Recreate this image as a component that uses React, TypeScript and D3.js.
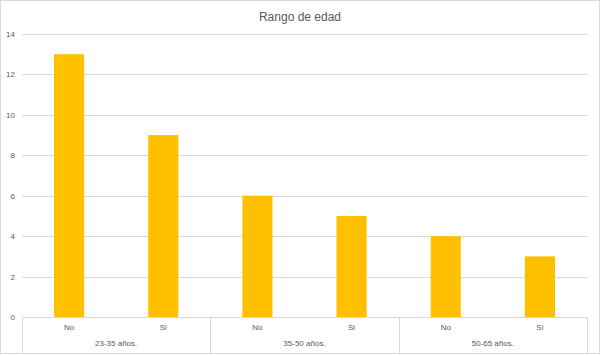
import React from "react";
import * as d3 from "d3";

const groups = ["23-35 años.", "35-50 años.", "50-65 años."];
const subs = ["No", "Si"];
const values = [13, 9, 6, 5, 4, 3];
const yTicks = [0, 2, 4, 6, 8, 10, 12, 14];
const title = "Rango de edad";

const W = 600, H = 356;
const left = 22, right = 587, top = 34, bottom = 317;

export default function App() {
  const items = groups.flatMap((g, gi) => subs.map((s, si) => ({ key: `${gi}-${si}`, g, s, v: values[gi * 2 + si] })));
  const x = d3.scaleBand<string>().domain(items.map(d => d.key)).range([left, right]).paddingInner(0.68).paddingOuter(0.34);
  const y = d3.scaleLinear().domain([0, 14]).range([bottom, top]);
  const gx = d3.scaleBand<string>().domain(groups).range([left, right]);
  const font = "'Liberation Sans', Arial, sans-serif";
  return (
    <svg width={W} height={H} style={{ position: "absolute", left: 0, top: 0, background: "#fff" }}>
      <rect x={0.5} y={0.5} width={W - 1} height={H - 3} fill="#fff" stroke="#d9d9d9" />
      <text x={W / 2} y={21} textAnchor="middle" fontFamily={font} fontSize={12} fill="#595959">{title}</text>
      {yTicks.map(t => (
        <g key={t}>
          <line x1={left} x2={right} y1={Math.round(y(t)) + 0.5} y2={Math.round(y(t)) + 0.5} stroke="#d9d9d9" />
          <text x={15} y={y(t) + 3} textAnchor="end" fontFamily={font} fontSize={8} fill="#595959">{t}</text>
        </g>
      ))}
      {items.map(d => (
        <rect key={d.key} x={x(d.key)} y={y(d.v)} width={x.bandwidth()} height={y(0) - y(d.v)} fill="#FFC000" />
      ))}
      {items.map(d => (
        <text key={"l" + d.key} x={(x(d.key) as number) + x.bandwidth() / 2} y={330} textAnchor="middle" fontFamily={font} fontSize={8} fill="#595959">{d.s}</text>
      ))}
      {groups.map(g => (
        <text key={"g" + g} x={(gx(g) as number) + gx.bandwidth() / 2} y={346} textAnchor="middle" fontFamily={font} fontSize={8} fill="#595959">{g}</text>
      ))}
      {[...groups.map(g => gx(g) as number), right].map((px, i) => (
        <line key={"s" + i} x1={Math.round(px) + 0.5} x2={Math.round(px) + 0.5} y1={bottom} y2={353} stroke="#d9d9d9" />
      ))}
    </svg>
  );
}
